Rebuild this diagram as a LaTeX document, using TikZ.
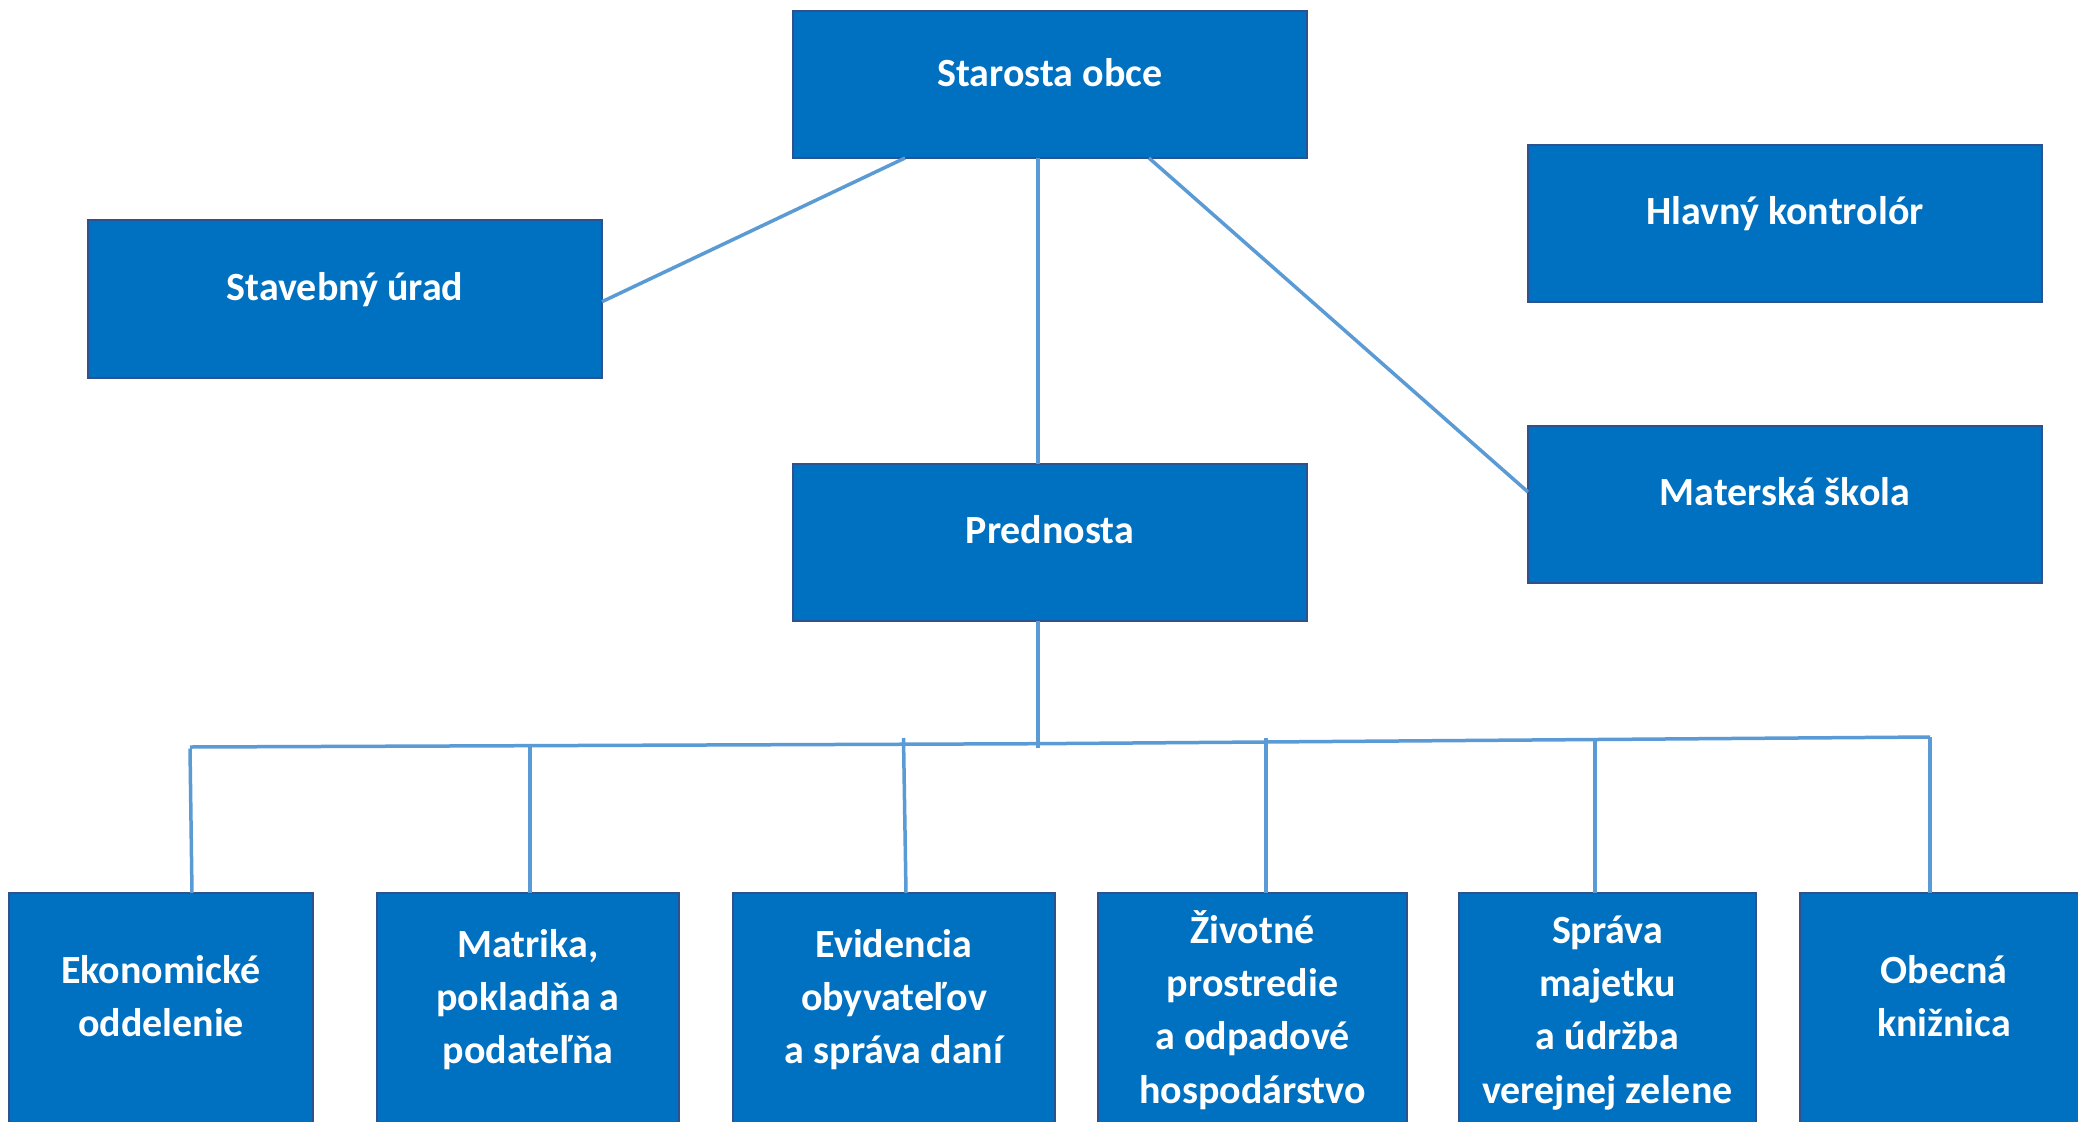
\documentclass[tikz,border=0pt]{standalone}
\usepackage{fontspec}
\setmainfont{Carlito}
\definecolor{boxc}{RGB}{0,112,192}
\definecolor{bordc}{RGB}{47,82,143}
\definecolor{linec}{RGB}{91,155,213}
\tikzset{
  orgbox/.style={draw=bordc, line width=2.5pt, fill=boxc, inner sep=0pt, outer sep=0pt,
    anchor=north west, text=white, font=\fontsize{40}{53.3}\selectfont\bfseries},
  conn/.style={draw=linec, line width=3.5pt}
}
% #1 name, #2 x, #3 y, #4 width, #5 baseline offset, #6 depth, #7 text
\newcommand\orgnode[7]{%
  \node[orgbox, text height=#5pt, text depth=#6pt] (#1) at (#2,#3)
    {\parbox[t]{#4pt}{\centering\rule{0pt}{#5pt}#7}};}
\begin{document}
\begin{tikzpicture}[x=1pt,y=-1pt]
\useasboundingbox (0,0) rectangle (2078,1122);
\clip (0,0) rectangle (2078,1122);
\fill[white] (0,0) rectangle (2078,1122);

\orgnode{starosta}{793}{11}{514}{75.5}{71.5}{Starosta obce}
\orgnode{stavebny}{88}{220}{514}{80}{78}{Stavebný úrad}
\orgnode{hlavny}{1528}{145}{514}{79.5}{77.5}{Hlavný kontrolór}
\orgnode{materska}{1528}{426}{514}{79.5}{77.5}{Materská škola}
\orgnode{prednosta}{793}{464}{514}{79}{78}{Prednosta}

\orgnode{ekon}{9}{893}{304}{90.3}{169.7}{Ekonomické\\oddelenie}
\orgnode{matrika}{377}{893}{302}{64.3}{195.7}{Matrika,\\pokladňa a\\podateľňa}
\orgnode{evid}{733}{893}{322}{64.3}{195.7}{Evidencia\\obyvateľov\\a správa daní}
\orgnode{zivot}{1098}{893}{309}{50.3}{209.7}{Životné\\prostredie\\a odpadové\\hospodárstvo}
\orgnode{sprava}{1459}{893}{297}{50.3}{209.7}{Správa\\majetku\\a údržba\\verejnej zelene}
\orgnode{obecna}{1800}{893}{288}{90.3}{169.7}{Obecná\\knižnica}

% connectors from Starosta
\draw[conn] ([xshift=112pt]starosta.south west) -- ([yshift=-2.7pt]stavebny.east);
\draw[conn] ([xshift=-12pt]starosta.south) -- ([xshift=-12pt]prednosta.north);
\draw[conn] ([xshift=356pt]starosta.south west) -- ([yshift=12.5pt]materska.west);

% bus
\coordinate (busL) at (190,747);
\coordinate (busM) at (1038,743.7);
\coordinate (busR) at (1930,737);
\coordinate (pdown) at (1038,748);
\draw[conn] (prednosta.south -| busM) -- (pdown);
\draw[conn] (busL) -- (busM) -- (busR);

\coordinate (tE) at (190,748.5);
\coordinate (tM) at (530,746);
\coordinate (tV) at (903.5,738);
\coordinate (tZ) at (1266,738);
\coordinate (tS) at (1595,739.5);
\coordinate (tO) at (1930,737);
\draw[conn] (tE) -- ([xshift=31pt]ekon.north);
\draw[conn] (tM) -- ([xshift=2pt]matrika.north);
\draw[conn] (tV) -- ([xshift=12pt]evid.north);
\draw[conn] (tZ) -- ([xshift=13.5pt]zivot.north);
\draw[conn] (tS) -- ([xshift=-12.5pt]sprava.north);
\draw[conn] (tO) -- ([xshift=-14pt]obecna.north);
\end{tikzpicture}
\end{document}
